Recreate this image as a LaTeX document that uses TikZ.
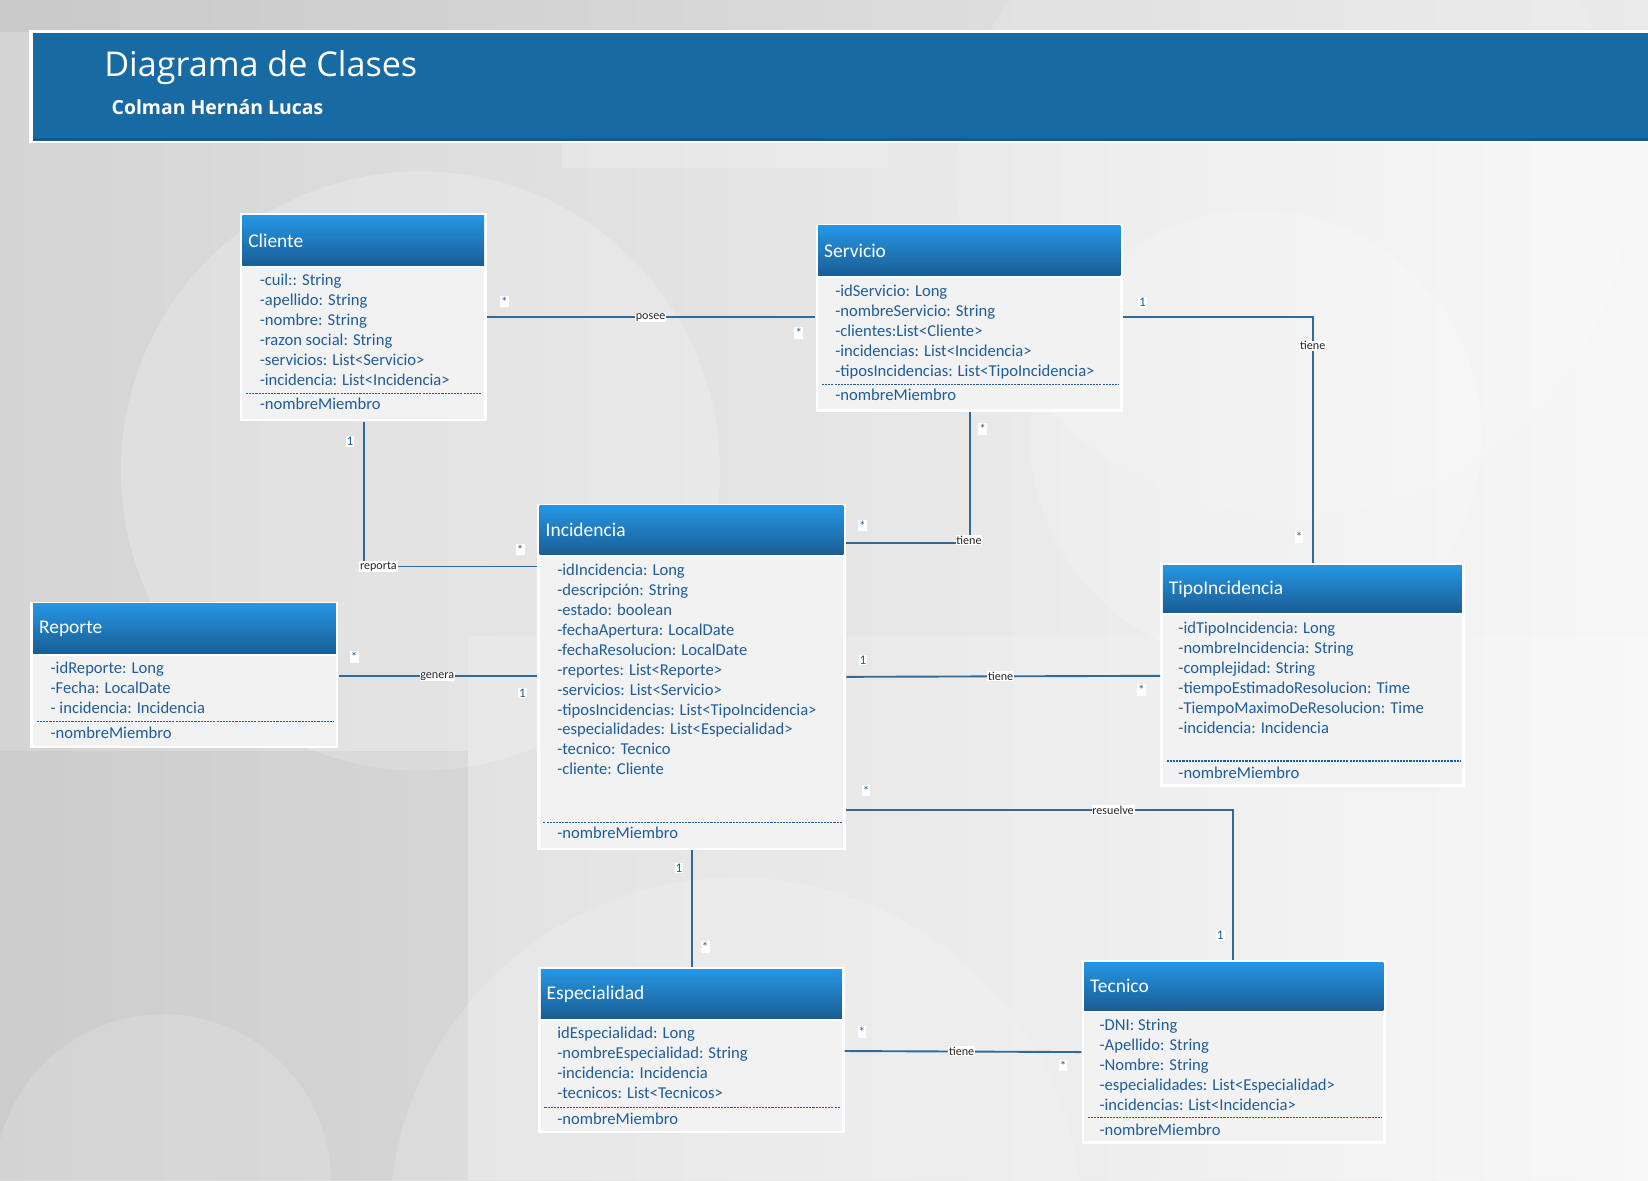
\documentclass[tikz,border=0pt]{standalone}
\usepackage{fontspec}
\setmainfont{Carlito}
\newfontfamily\titlefont{Open Sans}
\usetikzlibrary{fit}
\definecolor{banner}{RGB}{24,106,163}
\definecolor{hdtop}{RGB}{38,150,228}
\definecolor{hdbot}{RGB}{25,93,148}
\definecolor{bodyg}{RGB}{242,242,242}
\definecolor{txtb}{RGB}{30,93,153}
\definecolor{connc}{RGB}{46,106,154}
\definecolor{bgdark}{RGB}{212,212,212}
\definecolor{bglight}{RGB}{247,247,247}
\tikzset{
 attr/.style={anchor=west, inner sep=0pt, text=txtb, font=\fontsize{15.8}{18}\selectfont, text height=10pt, text depth=4pt},
 ctitle/.style={anchor=west, inner sep=0pt, text=white, font=\fontsize{18.5}{21}\selectfont},
 sepline/.style={draw=txtb, line width=1.2pt, dash pattern=on 2pt off 1pt},
 conn/.style={draw=connc, line width=1.8pt},
 mult/.style={fill=white, inner sep=1pt, text=txtb, font=\fontsize{12.5}{13}\selectfont},
 rel/.style={fill=white, inner sep=0.8pt, text=black!85, font=\fontsize{11.5}{12}\selectfont},
}
\newcommand{\umlbox}[9]{%
 \fill[white] (#2,#3) rectangle (#4,#5);
 \fill[bodyg] ({#2+2.5},{#7+2}) rectangle ({#4-2.5},{#5-2.5});
 \shade[top color=hdtop, bottom color=hdbot] ({#2+2.5},#6) rectangle ({#4-2.5},#7);
 \node[fit={(#2,#3) (#4,#5)}, inner sep=0pt] (#1) {};
 \node[ctitle] (#1-t) at ({#2+8},{(#6+#7)/2}) {#8};
 \draw[sepline] ({#2+6},#9) -- ({#4-4},#9);
}
\newcommand{\attrlist}[4]{%
 \foreach \t [count=\i from 0] in {#4} {\node[attr] (#1-a\i) at (#2,{#3+1+19*\i}) {\t};}
}
\begin{document}
\begin{tikzpicture}[x=1pt,y=-1pt]
\useasboundingbox (0,0) rectangle (1568,1123);
% background
\begin{scope}
\clip (0,0) rectangle (1568,1123);
\shade[left color=bgdark, right color=bglight] (0,0) rectangle (1568,1123);
\fill[black, opacity=0.05] (0,0) rectangle (1568,30);
\fill[white, opacity=0.2] (400,448) circle (285);
\fill[white, opacity=0.18] (1195,415) circle (215);
\fill[white, opacity=0.12] (1230,170) circle (320);
\fill[black, opacity=0.035] (0,715) rectangle (445,1123);
\fill[white, opacity=0.15] (445,605) rectangle (1568,1123);
\fill[white, opacity=0.15] (155,1125) circle (160);
\fill[white, opacity=0.15] (700,1165) circle (330);
\fill[white, opacity=0.2] (535,130) rectangle (845,160);
\end{scope}
% banner
\fill[white] (28,28.5) rectangle (1570,136.5);
\fill[banner] (31,31) rectangle (1570,134);
\fill[banner!85!black] (31,131) rectangle (1570,134);
\node[anchor=west, inner sep=0pt, text=white, font=\titlefont\fontsize{32.5}{38}\selectfont] (title) at (99,64) {Diagrama de Clases};
\node[anchor=west, inner sep=0pt, text=white, font=\titlefont\bfseries\fontsize{18.5}{22}\selectfont] (author) at (106,102) {Colman Hernán Lucas};
% classes
\umlbox{cli}{228}{203}{463}{401}{205.5}{252.5}{Cliente}{374.6}
\attrlist{cli}{247}{267.4}{-cuil:: String,-apellido: String,-nombre: String,-razon social: String,-servicios: List<Servicio>,-incidencia: List<Incidencia>}
\node[attr] (cli-m) at (247,387) {-nombreMiembro};

\umlbox{srv}{776}{213}{1068.5}{391.7}{215}{262.3}{Servicio}{365.5}
\attrlist{srv}{794.5}{278.2}{-idServicio: Long,-nombreServicio: String,-clientes:List<Cliente>,-incidencias: List<Incidencia>,-tiposIncidencias: List<TipoIncidencia>}
\node[attr] (srv-m) at (794.5,378) {-nombreMiembro};

\umlbox{inc}{511}{479.5}{805}{809}{481}{528}{Incidencia}{782.7}
\attrlist{inc}{530}{543.3}{-idIncidencia: Long,-descripción: String,-estado: boolean,-fechaApertura: LocalDate,-fechaResolucion: LocalDate,-reportes: List<Reporte>,-servicios: List<Servicio>,-tiposIncidencias: List<TipoIncidencia>,-especialidades: List<Especialidad>,-tecnico: Tecnico,-cliente: Cliente}
\node[attr] (inc-m) at (530,795) {-nombreMiembro};

\umlbox{tip}{1104}{536}{1393.5}{748.5}{538}{583}{TipoIncidencia}{724}
\attrlist{tip}{1121}{598.5}{-idTipoIncidencia: Long,-nombreIncidencia: String,-complejidad: String,-tiempoEstimadoResolucion: Time,-TiempoMaximoDeResolucion: Time,-incidencia: Incidencia}
\node[attr] (tip-m) at (1121,737.4) {-nombreMiembro};

\umlbox{rep}{29}{572.5}{322}{712}{574.5}{621.7}{Reporte}{686.6}
\attrlist{rep}{48}{636.5}{-idReporte: Long,-Fecha: LocalDate,- incidencia: Incidencia}
\node[attr] (rep-m) at (48,699.4) {-nombreMiembro};

\umlbox{esp}{512}{920.4}{803.5}{1078.3}{922.5}{969}{Especialidad}{1053.9}
\attrlist{esp}{530}{983.8}{idEspecialidad: Long,-nombreEspecialidad: String,-incidencia: Incidencia,-tecnicos: List<Tecnicos>}
\node[attr] (esp-m) at (530,1066.7) {-nombreMiembro};

\umlbox{tec}{1029}{913.4}{1318.6}{1088}{915.5}{961}{Tecnico}{1063.4}
\attrlist{tec}{1046}{976.2}{-DNI: String,-Apellido: String,-Nombre: String,-especialidades: List<Especialidad>,-incidencias: List<Incidencia>}
\node[attr] (tec-m) at (1046,1077) {-nombreMiembro};

% connectors
\draw[conn] (cli.east |- 0,302) -- (srv.west |- 0,302);
\draw[conn] (srv.east |- 0,302) -| (1249,0 |- tip.north);
\draw[conn] (srv.south -| 922.6,0) -- (922.6,517) -- (inc.east |- 0,517);
\draw[conn] (cli.south -| 346,0) |- (inc.west |- 0,539);
\draw[conn] (rep.east |- 0,643) -- (inc.west |- 0,643);
\draw[conn] (inc.east |- 0,644) -- (tip.west |- 0,643);
\draw[conn] (inc.east |- 0,771) -| (1173.5,0 |- tec.north);
\draw[conn] (inc.south -| 658,0) -- (esp.north -| 658,0);
\draw[conn] (esp.east |- 0,1000) -- (tec.west |- 0,1001);

% labels
\node[mult] (m1) at (480,287) {*};
\node[rel] (r1) at (619,302) {posee};
\node[mult] (m2) at (760,317) {*};
\node[mult] (m3) at (1087,288) {1};
\node[rel] (r2) at (1249,329) {tiene};
\node[mult] (m4) at (1236,511) {*};
\node[mult] (m5) at (935,408) {*};
\node[rel] (r3) at (922,514) {tiene};
\node[mult] (m6) at (820.5,500) {*};
\node[mult] (m7) at (333,420) {1};
\node[rel] (r4) at (360,539) {reporta};
\node[mult] (m8) at (495,523) {*};
\node[mult] (m9) at (337,625) {*};
\node[rel] (r5) at (416,643.5) {genera};
\node[mult] (m10) at (497,659.5) {1};
\node[mult] (m11) at (821,628) {1};
\node[rel] (r6) at (952,643.4) {tiene};
\node[mult] (m12) at (1086,656.5) {*};
\node[mult] (m13) at (824,752) {*};
\node[rel] (r7) at (1059,771) {resuelve};
\node[mult] (m14) at (1161,890) {1};
\node[mult] (m15) at (646,826) {1};
\node[mult] (m16) at (671,901) {*};
\node[mult] (m17) at (820,982) {*};
\node[rel] (r8) at (915,1000) {tiene};
\node[mult] (m18) at (1011.5,1014) {*};
\end{tikzpicture}
\end{document}
